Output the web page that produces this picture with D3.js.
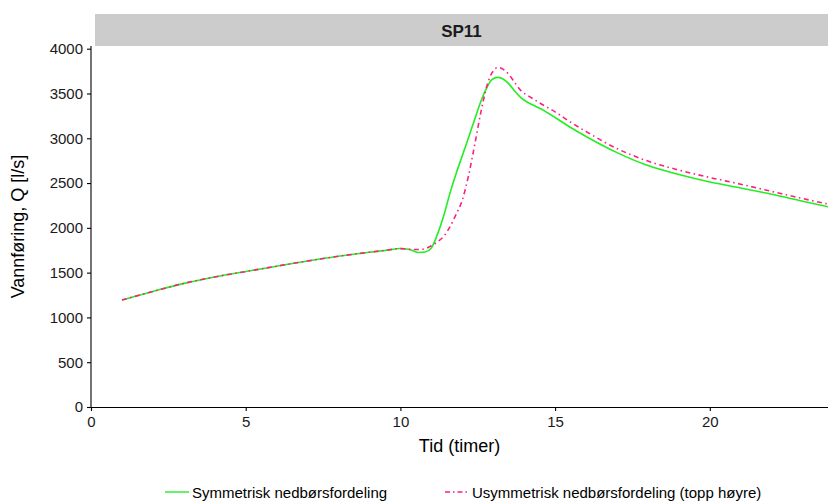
<!DOCTYPE html>
<html>
<head>
<meta charset="utf-8">
<script src="https://cdn.jsdelivr.net/npm/d3@7"></script>
<style>
  body { margin: 0; background: #fff; }
  svg { display: block; font-family: "Liberation Sans", Arial, sans-serif; }
</style>
</head>
<body>
<svg id="chart" width="828" height="501"></svg>
<script>
// Hydrograph for SP11: discharge over time for two rainfall distributions
const panelTitle = "SP11";
const hours = [1, 2, 3, 4, 5, 6, 7, 8, 9, 9.5, 10, 10.3, 10.6, 10.8, 11, 11.2, 11.4, 11.6, 11.8,
  12, 12.2, 12.4, 12.6, 12.8, 12.9, 13, 13.15, 13.3, 13.5, 13.7, 13.9, 14.2, 14.5, 15, 15.5,
  16, 17, 18, 19, 20, 21, 22, 23, 23.82];
const symmetrisk = [1194, 1290, 1380, 1452, 1512, 1572, 1630, 1683, 1728, 1748, 1770, 1758, 1725, 1730, 1775, 1930, 2135, 2385, 2605,
  2805, 3005, 3210, 3410, 3570, 3632, 3665, 3680, 3665, 3610, 3525, 3450, 3385, 3335, 3232, 3120,
  3020, 2840, 2695, 2595, 2512, 2445, 2375, 2298, 2236];
const usymmetrisk = [1194, 1290, 1380, 1452, 1512, 1572, 1630, 1683, 1728, 1748, 1768, 1760, 1758, 1768, 1800, 1845, 1905, 2010, 2150,
  2310, 2580, 2925, 3290, 3590, 3690, 3750, 3792, 3775, 3715, 3620, 3530, 3460, 3395, 3295, 3180,
  3075, 2885, 2745, 2645, 2562, 2487, 2407, 2327, 2265];
const xTicks = [0, 5, 10, 15, 20];
const yTicks = [0, 500, 1000, 1500, 2000, 2500, 3000, 3500, 4000];
const seriesNames = ["Symmetrisk nedbørsfordeling", "Usymmetrisk nedbørsfordeling (topp høyre)"];
const seriesColors = ["#22ee22", "#ff1f7f"];

const svg = d3.select("#chart");
const pLeft = 91, pRight = 828, pTop = 46, pBottom = 407;

const x = d3.scaleLinear().domain([0, 23.82]).range([pLeft, pRight]);
const y = d3.scaleLinear().domain([0, 4000]).range([pBottom, 48.7]);

// strip header
svg.append("rect").attr("x", 95).attr("y", 14).attr("width", pRight - 95).attr("height", pTop - 14)
  .attr("fill", "#cccccc");
svg.append("text").attr("x", (95 + pRight) / 2).attr("y", 36.5).attr("text-anchor", "middle")
  .attr("font-size", 17).attr("font-weight", "bold").attr("fill", "#1a1a1a").text(panelTitle);

// axes
const xAxis = svg.append("g").attr("transform", `translate(0,${pBottom})`)
  .call(d3.axisBottom(x).tickValues(xTicks).tickFormat(d3.format("d"))
    .tickSize(4).tickPadding(5).tickSizeOuter(0));
const yAxis = svg.append("g").attr("transform", `translate(${pLeft},0)`)
  .call(d3.axisLeft(y).tickValues(yTicks).tickFormat(d3.format("d"))
    .tickSize(4).tickPadding(4).tickSizeOuter(0));
[xAxis, yAxis].forEach(g => {
  g.select(".domain").attr("stroke", "#000").attr("stroke-width", 1.1);
  g.selectAll(".tick line").attr("stroke", "#000").attr("stroke-width", 1.1);
  g.selectAll(".tick text").attr("font-size", 15).attr("fill", "#1a1a1a")
    .attr("font-family", "Liberation Sans, Arial, sans-serif");
});
yAxis.select(".domain").attr("d", `M0,${pTop}V${pBottom}`);

// axis titles
svg.append("text").attr("x", (pLeft + pRight) / 2).attr("y", 452).attr("text-anchor", "middle")
  .attr("font-size", 18).attr("fill", "#000").text("Tid (timer)");
svg.append("text").attr("transform", `translate(24,${(pTop + pBottom) / 2}) rotate(-90)`)
  .attr("text-anchor", "middle").attr("font-size", 18).attr("fill", "#000")
  .text("Vannføring, Q [l/s]");

// series lines
const line = vals => d3.line().x((d, i) => x(hours[i])).y(d => y(d)).curve(d3.curveMonotoneX)(vals);
const plot = svg.append("g");
plot.append("path").attr("d", line(symmetrisk)).attr("fill", "none")
  .attr("stroke", seriesColors[0]).attr("stroke-width", 1.6);
plot.append("path").attr("d", line(usymmetrisk)).attr("fill", "none")
  .attr("stroke", seriesColors[1]).attr("stroke-width", 1.6).attr("stroke-dasharray", "5,3.5,1.5,3.5");

// legend
const legendY = 492;
const legend = [
  { x1: 165, x2: 189, tx: 192, dash: null },
  { x1: 445, x2: 467, tx: 472, dash: "5,3,1.5,3" }
];
legend.forEach((l, i) => {
  svg.append("line").attr("x1", l.x1).attr("x2", l.x2).attr("y1", legendY).attr("y2", legendY)
    .attr("stroke", seriesColors[i]).attr("stroke-width", 1.4)
    .attr("stroke-dasharray", l.dash);
  svg.append("text").attr("x", l.tx).attr("y", legendY + 5.5).attr("font-size", 15)
    .attr("fill", "#000").text(seriesNames[i]);
});
</script>
</body>
</html>
